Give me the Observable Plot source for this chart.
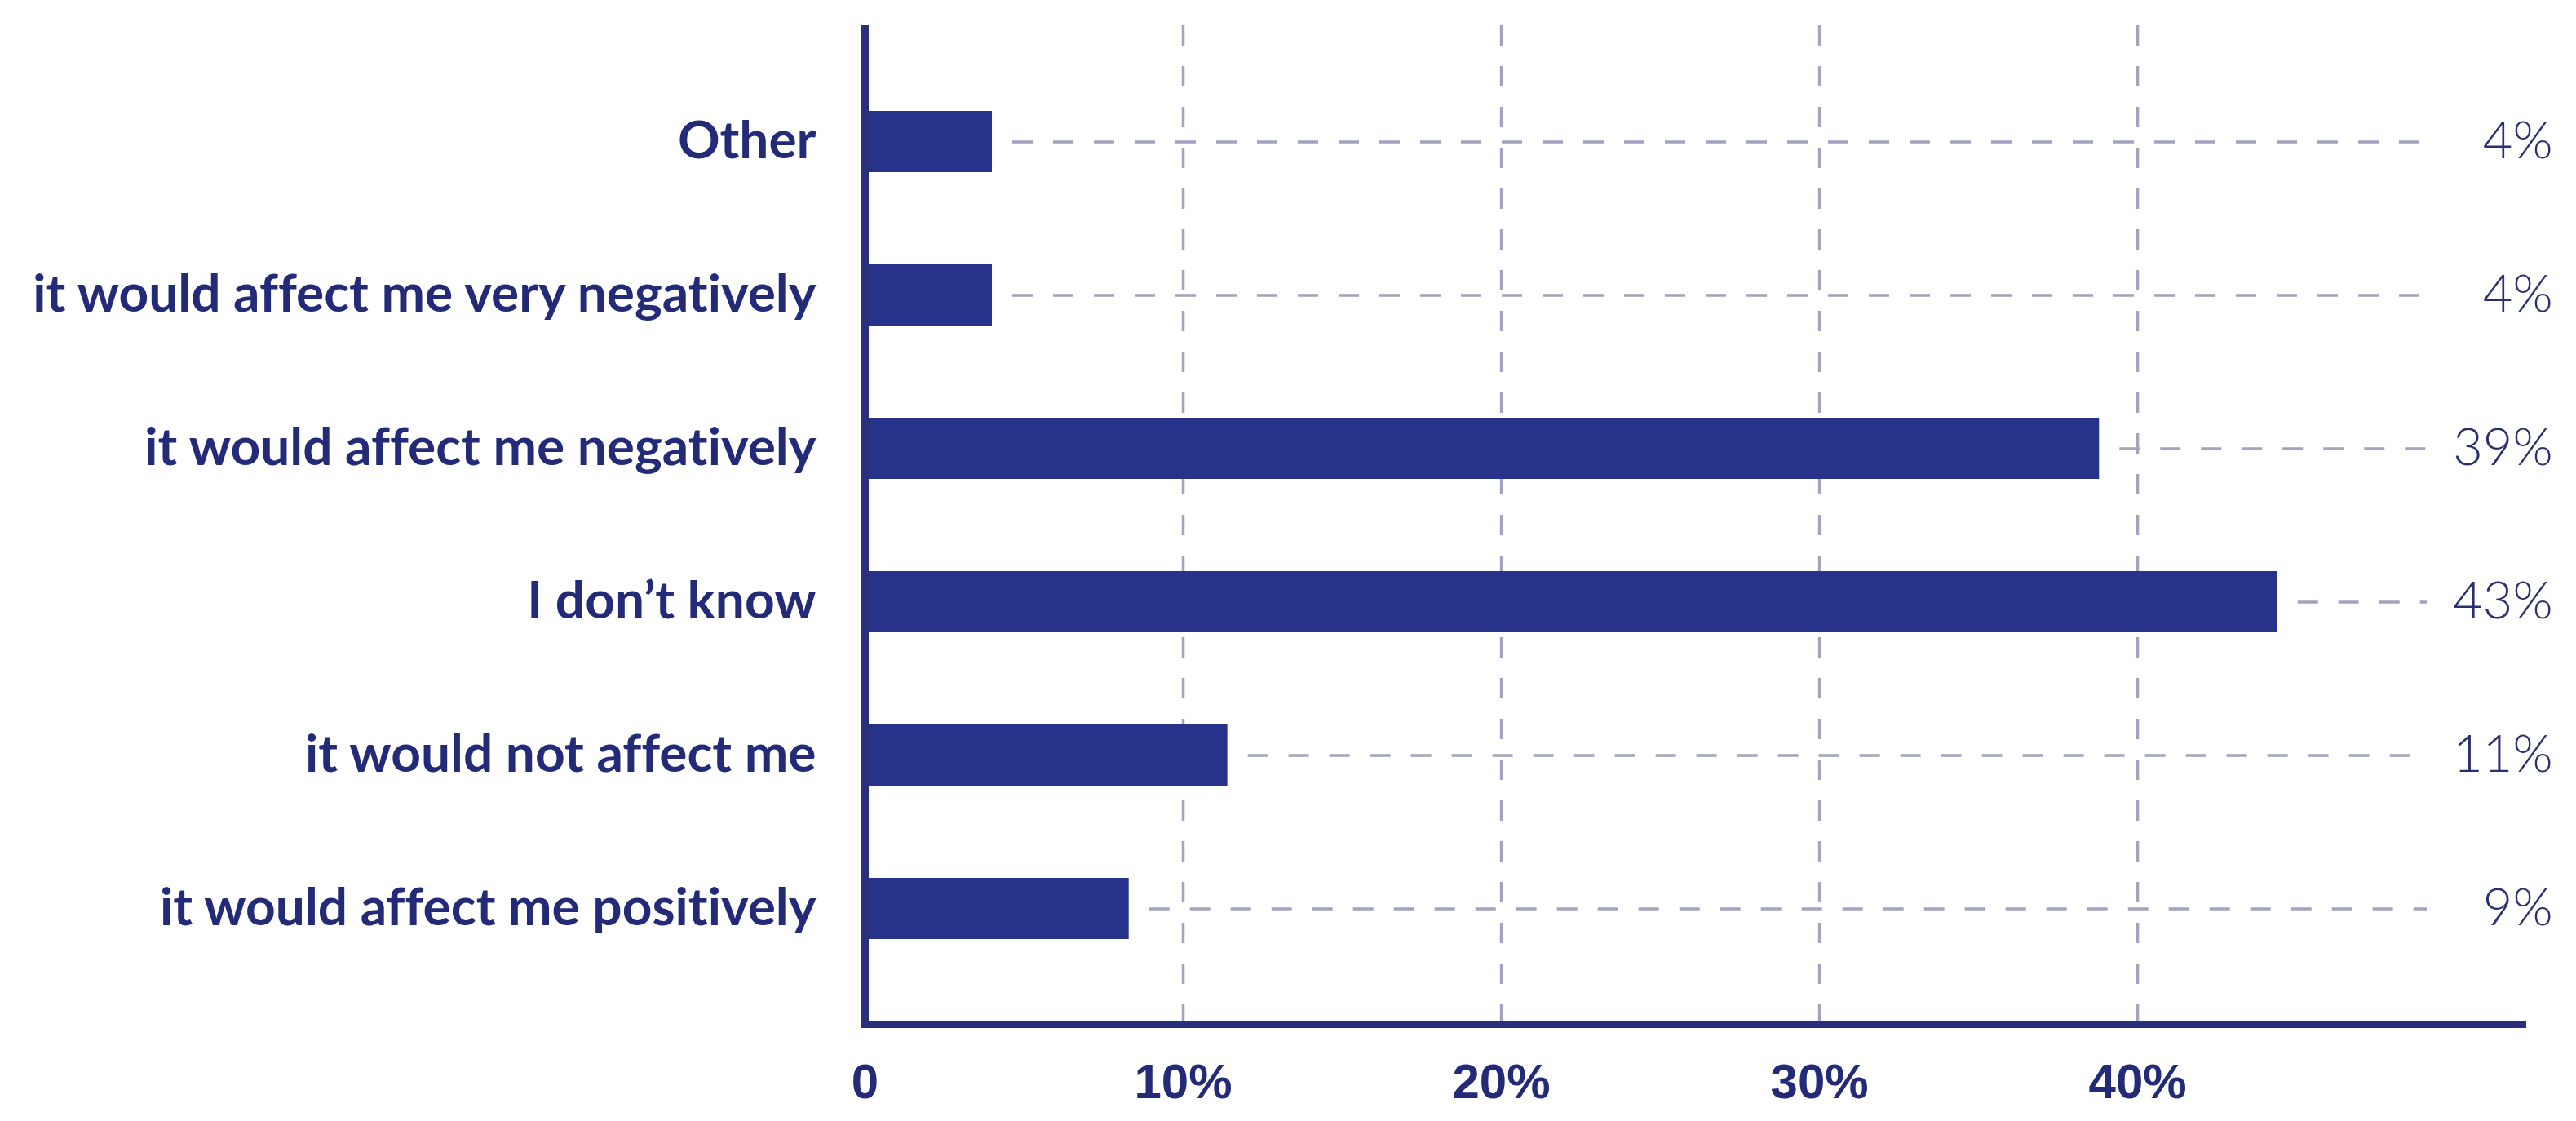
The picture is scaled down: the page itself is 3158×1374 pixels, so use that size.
<!DOCTYPE html>
<html>
<head>
<meta charset="utf-8">
<script src="https://cdn.jsdelivr.net/npm/d3@7"></script>
<script src="https://cdn.jsdelivr.net/npm/@observablehq/plot@0.6"></script>
<style>
  html, body { margin: 0; padding: 0; background: #ffffff; overflow: hidden; }
  #chart svg { display: block; background: #ffffff; }
  #chart svg text { font-variant-ligatures: none; font-feature-settings: "liga" 0, "clig" 0; }
</style>
</head>
<body>
<div id="chart"></div>
<script>
// Categories, top to bottom
const categories = [
  "Other",
  "it would affect me very negatively",
  "it would affect me negatively",
  "I don\u2019t know",
  "it would not affect me",
  "it would affect me positively"
];
// Bar lengths as drawn (percent)
const barValues = [4.0, 4.0, 38.8, 44.4, 11.4, 8.3];
// Printed value labels
const valueLabels = ["4%", "4%", "39%", "43%", "11%", "9%"];
// X axis ticks
const xTicks = [0, 10, 20, 30, 40];
const xTickLabels = ["0", "10%", "20%", "30%", "40%"];

const rows = categories.map((c, i) => ({category: c, value: barValues[i], label: valueLabels[i]}));

const navy = "#27338a";
const textNavy = "#232a78";
const lineNavy = "#2a2f7c";
const gridColor = "#a3a3bf";
const leaderEnd = 49.1;

const chart = Plot.plot({
  width: 3158,
  height: 1374,
  marginLeft: 1060,
  marginRight: 66,
  marginTop: 31,
  marginBottom: 119,
  style: {background: "#ffffff", color: textNavy},
  x: {domain: [0, 52.1], axis: null},
  y: {domain: categories, paddingInner: 0.603, paddingOuter: 0.543, align: 0.5, axis: null},
  marks: [
    // vertical dashed gridlines
    Plot.ruleX(xTicks.filter(d => d > 0), {
      stroke: gridColor, strokeWidth: 3.5, strokeDasharray: "25,25"
    }),
    // horizontal dashed leaders from bar end toward label
    Plot.ruleY(rows, {
      y: "category", x1: "value", x2: () => leaderEnd,
      stroke: gridColor, strokeWidth: 3.5, strokeDasharray: "25,25", strokeDashoffset: 25
    }),
    // bars
    Plot.barX(rows, {x: "value", y: "category", fill: navy}),
    // axis lines
    Plot.ruleX([0], {stroke: lineNavy, strokeWidth: 9}),
    Plot.frame({anchor: "bottom", stroke: lineNavy, strokeWidth: 9}),
    // category labels
    Plot.axisY({
      label: null,
      tickSize: 0, tickPadding: 60,
      fontSize: 64, fontWeight: "bold", fontFamily: "Lato",
      fill: textNavy
    }),
    // x tick labels
    Plot.axisX(xTicks, {
      label: null,
      tickSize: 0, tickPadding: 48,
      tickFormat: d => xTickLabels[xTicks.indexOf(d)],
      fontSize: 60, fontWeight: "bold", fontFamily: "Liberation Sans",
      fill: textNavy
    }),
    // value labels at right
    Plot.text(rows, {
      y: "category", text: "label",
      frameAnchor: "right", textAnchor: "end", dx: 37,
      fontSize: 63, fontWeight: 300, fontFamily: "Lato",
      fill: "#2b2f70"
    })
  ]
});

document.getElementById("chart").appendChild(chart);
</script>
</body>
</html>
